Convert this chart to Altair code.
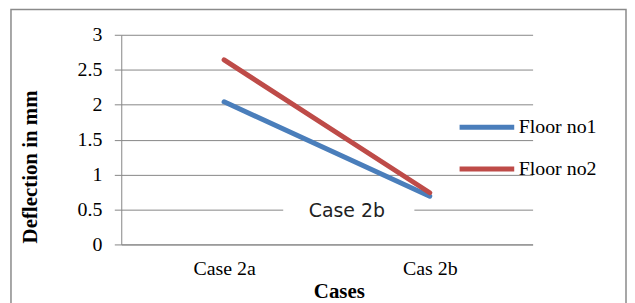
import altair as alt
import pandas as pd

cases = ["Case 2a", "Cas 2b"]
series_names = ["Floor no1", "Floor no2"]
floor_no1 = [2.04, 0.69]
floor_no2 = [2.64, 0.74]
y_ticks = [0, 0.5, 1, 1.5, 2, 2.5, 3]
colors = ["#4A7EBB", "#BE4B48"]
annotation = ["Case 2b"]

rows = []
for s, vals in zip(series_names, [floor_no1, floor_no2]):
    for c, v in zip(cases, vals):
        rows.append({"Case": c, "Series": s, "Deflection": v})
df = pd.DataFrame(rows)

SERIF = "Liberation Serif"
GRAY = "#868686"

lines = alt.Chart(df).mark_line(strokeWidth=5, strokeCap="round", strokeJoin="round").encode(
    x=alt.X("Case:N", sort=cases, title="Cases",
            axis=alt.Axis(ticks=False, labelPadding=14, labelAngle=0, grid=False,
                          labelFont=SERIF, labelFontSize=20,
                          titleX=219, titleY=47, titleBaseline="middle", titleAlign="center",
                          titleFontSize=21)),
    y=alt.Y("Deflection:Q", scale=alt.Scale(domain=[0, 3], nice=False),
            title="Deflection in mm",
            axis=alt.Axis(values=y_ticks, format="~g", tickSize=7, labelPadding=12.5,
                          labelFont=SERIF, labelFontSize=20,
                          titleX=-91, titleY=132.5, titleAngle=270, titleAlign="center",
                          titleBaseline="middle", titleFontSize=21)),
    color=alt.Color("Series:N", sort=series_names,
                    scale=alt.Scale(domain=series_names, range=colors),
                    legend=alt.Legend(title=None, orient="none", legendX=338, legendY=63,
                                      symbolType="stroke", symbolSize=3025, symbolStrokeWidth=5,
                                      labelFont=SERIF, labelFontSize=20, labelColor="black",
                                      labelOffset=2)),
)

dummy = pd.DataFrame({"label": annotation})

border = alt.Chart(dummy).mark_rect(filled=False, stroke="#8a8a8a", strokeWidth=1.5).encode(
    x=alt.value(-111), x2=alt.value(508), y=alt.value(-25.5), y2=alt.value(330)
)

box = alt.Chart(dummy).mark_rect(fill="white").encode(
    x=alt.value(163), x2=alt.value(295), y=alt.value(168), y2=alt.value(186)
)

text = alt.Chart(dummy).mark_text(font="DejaVu Sans", fontSize=19, align="center",
                                  baseline="middle", color="#222222").encode(
    x=alt.value(227), y=alt.value(177), text="label:N"
)

chart = alt.layer(border, lines, box, text).properties(
    width=414, height=211,
    padding={"left": 114, "top": 26, "right": 95, "bottom": 58},
    autosize="none",
).configure_view(stroke=None).configure_axis(
    gridColor=GRAY, domainColor=GRAY, tickColor=GRAY,
    labelFont=SERIF, labelFontSize=20, labelColor="black",
    titleFont=SERIF, titleFontWeight="bold", titleColor="black",
)

chart.save("out.html", embed_options={"renderer": "svg", "actions": False})
